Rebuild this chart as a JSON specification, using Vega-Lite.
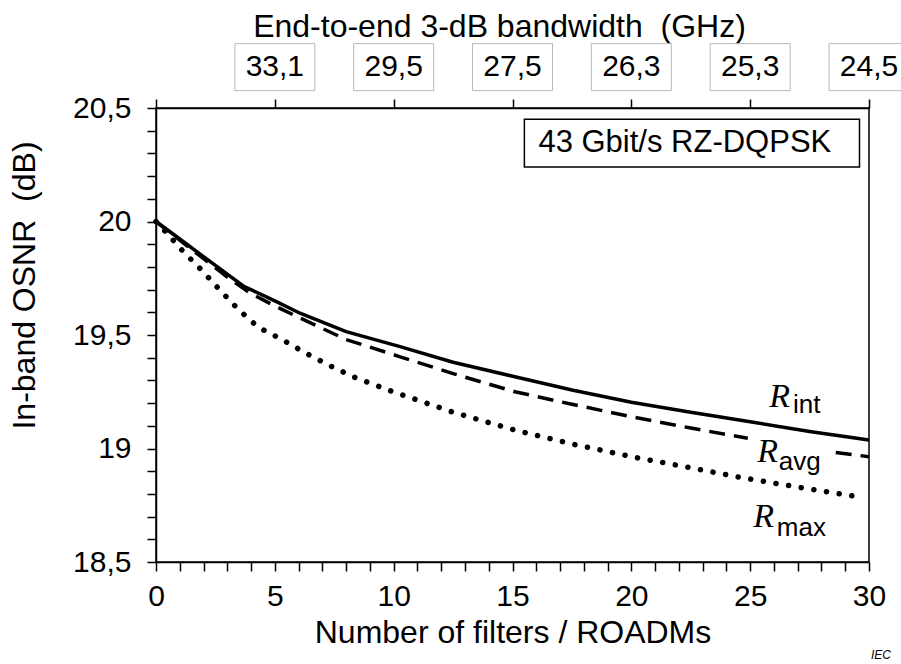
{
  "$schema": "https://vega.github.io/schema/vega-lite/v6.json",
  "width": 713,
  "height": 454,
  "autosize": {"type": "none"},
  "padding": {"left": 156, "top": 108, "right": 32, "bottom": 102},
  "background": "white",
  "config": {
    "view": {"stroke": "black", "strokeWidth": 1.5},
    "font": "Liberation Sans",
    "axis": {
      "domainColor": "black", "domainWidth": 1.5,
      "tickColor": "black", "tickWidth": 1.5,
      "labelColor": "black", "titleColor": "black",
      "labelFont": "Liberation Sans", "titleFont": "Liberation Sans",
      "titleFontWeight": "normal", "labelFontSize": 30, "titleFontSize": 32,
      "grid": false, "labelOverlap": false, "labelBound": false, "labelFlush": false
    }
  },
  "datasets": {
    "curves": [
      {"series": "R_int", "segment": 1, "filters": 0, "osnr": 20.0},
      {"series": "R_int", "segment": 1, "filters": 1, "osnr": 19.923},
      {"series": "R_int", "segment": 1, "filters": 2, "osnr": 19.845},
      {"series": "R_int", "segment": 1, "filters": 3, "osnr": 19.768},
      {"series": "R_int", "segment": 1, "filters": 3.67, "osnr": 19.716},
      {"series": "R_int", "segment": 1, "filters": 5, "osnr": 19.65},
      {"series": "R_int", "segment": 1, "filters": 6.06, "osnr": 19.596},
      {"series": "R_int", "segment": 1, "filters": 8, "osnr": 19.515},
      {"series": "R_int", "segment": 1, "filters": 10.27, "osnr": 19.449},
      {"series": "R_int", "segment": 1, "filters": 12.5, "osnr": 19.38},
      {"series": "R_int", "segment": 1, "filters": 15.1, "osnr": 19.316},
      {"series": "R_int", "segment": 1, "filters": 17.5, "osnr": 19.258},
      {"series": "R_int", "segment": 1, "filters": 20, "osnr": 19.204},
      {"series": "R_int", "segment": 1, "filters": 22.5, "osnr": 19.16},
      {"series": "R_int", "segment": 1, "filters": 25, "osnr": 19.118},
      {"series": "R_int", "segment": 1, "filters": 27.5, "osnr": 19.075},
      {"series": "R_int", "segment": 1, "filters": 30, "osnr": 19.037},
      {"series": "R_avg", "segment": 1, "filters": 0, "osnr": 20.0},
      {"series": "R_avg", "segment": 1, "filters": 1, "osnr": 19.918},
      {"series": "R_avg", "segment": 1, "filters": 2, "osnr": 19.836},
      {"series": "R_avg", "segment": 1, "filters": 3, "osnr": 19.755},
      {"series": "R_avg", "segment": 1, "filters": 3.95, "osnr": 19.685},
      {"series": "R_avg", "segment": 1, "filters": 5, "osnr": 19.628},
      {"series": "R_avg", "segment": 1, "filters": 6.06, "osnr": 19.575},
      {"series": "R_avg", "segment": 1, "filters": 8, "osnr": 19.48},
      {"series": "R_avg", "segment": 1, "filters": 10.27, "osnr": 19.404},
      {"series": "R_avg", "segment": 1, "filters": 12.5, "osnr": 19.33},
      {"series": "R_avg", "segment": 1, "filters": 15.1, "osnr": 19.25},
      {"series": "R_avg", "segment": 1, "filters": 17.5, "osnr": 19.195},
      {"series": "R_avg", "segment": 1, "filters": 20, "osnr": 19.14},
      {"series": "R_avg", "segment": 1, "filters": 22.5, "osnr": 19.09},
      {"series": "R_avg", "segment": 1, "filters": 24.9, "osnr": 19.045},
      {"series": "R_avg", "segment": 2, "filters": 28.6, "osnr": 18.982},
      {"series": "R_avg", "segment": 2, "filters": 30, "osnr": 18.964},
      {"series": "R_max", "segment": 1, "filters": 0, "osnr": 20.0},
      {"series": "R_max", "segment": 1, "filters": 0.4, "osnr": 19.955},
      {"series": "R_max", "segment": 1, "filters": 1.15, "osnr": 19.867},
      {"series": "R_max", "segment": 1, "filters": 1.92, "osnr": 19.786},
      {"series": "R_max", "segment": 1, "filters": 2.69, "osnr": 19.698},
      {"series": "R_max", "segment": 1, "filters": 3.46, "osnr": 19.613},
      {"series": "R_max", "segment": 1, "filters": 4.3, "osnr": 19.534},
      {"series": "R_max", "segment": 1, "filters": 5.29, "osnr": 19.481},
      {"series": "R_max", "segment": 1, "filters": 6.27, "osnr": 19.422},
      {"series": "R_max", "segment": 1, "filters": 7.25, "osnr": 19.368},
      {"series": "R_max", "segment": 1, "filters": 8.3, "osnr": 19.316},
      {"series": "R_max", "segment": 1, "filters": 9.84, "osnr": 19.255},
      {"series": "R_max", "segment": 1, "filters": 12.5, "osnr": 19.16},
      {"series": "R_max", "segment": 1, "filters": 15.1, "osnr": 19.081},
      {"series": "R_max", "segment": 1, "filters": 17.5, "osnr": 19.02},
      {"series": "R_max", "segment": 1, "filters": 20.15, "osnr": 18.961},
      {"series": "R_max", "segment": 1, "filters": 22.5, "osnr": 18.915},
      {"series": "R_max", "segment": 1, "filters": 24.57, "osnr": 18.873},
      {"series": "R_max", "segment": 1, "filters": 27, "osnr": 18.83},
      {"series": "R_max", "segment": 1, "filters": 29.7, "osnr": 18.785}
    ],
    "bandwidth": [
      {"filters": 5, "bw": "33,1"},
      {"filters": 10, "bw": "29,5"},
      {"filters": 15, "bw": "27,5"},
      {"filters": 20, "bw": "26,3"},
      {"filters": 25, "bw": "25,3"},
      {"filters": 30, "bw": "24,5"}
    ],
    "one": [{}]
  },
  "layer": [
    {
      "data": {"name": "curves"},
      "transform": [{"filter": "datum.series === 'R_int'"}],
      "mark": {"type": "line", "color": "black", "strokeWidth": 3.5},
      "encoding": {
        "x": {
          "field": "filters", "type": "quantitative",
          "scale": {"domain": [0, 30], "nice": false, "zero": false},
          "axis": {
            "orient": "bottom",
            "values": [0,1,2,3,4,5,6,7,8,9,10,11,12,13,14,15,16,17,18,19,20,21,22,23,24,25,26,27,28,29,30],
            "labelExpr": "datum.value % 5 === 0 ? datum.label : ''",
            "tickSize": 9, "labelPadding": 10,
            "title": "Number of filters / ROADMs", "titlePadding": 6
          }
        },
        "y": {
          "field": "osnr", "type": "quantitative",
          "scale": {"domain": [18.5, 20.5], "nice": false, "zero": false},
          "axis": {
            "orient": "left",
            "values": [18.5,18.6,18.7,18.8,18.9,19,19.1,19.2,19.3,19.4,19.5,19.6,19.7,19.8,19.9,20,20.1,20.2,20.3,20.4,20.5],
            "labelExpr": "indexof(['18.5','19','19.5','20','20.5'], '' + datum.value) >= 0 ? replace('' + datum.value, '.', ',') : ''",
            "tickSize": 9, "labelPadding": 16,
            "title": "In-band OSNR \u00a0(dB)", "titlePadding": 31, "titleY": 177
          }
        }
      }
    },
    {
      "data": {"name": "curves"},
      "transform": [{"filter": "datum.series === 'R_avg'"}],
      "mark": {"type": "line", "color": "black", "strokeWidth": 3.5, "strokeDash": [16, 9]},
      "encoding": {
        "x": {"field": "filters", "type": "quantitative", "axis": null},
        "y": {"field": "osnr", "type": "quantitative", "axis": null},
        "detail": {"field": "segment", "type": "nominal"}
      }
    },
    {
      "data": {"name": "curves"},
      "transform": [{"filter": "datum.series === 'R_max'"}],
      "mark": {"type": "line", "color": "black", "strokeWidth": 5.5, "strokeDash": [0.1, 12.7], "strokeCap": "round"},
      "encoding": {
        "x": {"field": "filters", "type": "quantitative", "axis": null},
        "y": {"field": "osnr", "type": "quantitative", "axis": null}
      }
    },
    {
      "data": {"name": "bandwidth"},
      "mark": {"type": "point", "shape": "M-1,-0.5875L1,-0.5875L1,0.5875L-1,0.5875Z", "size": 6400, "filled": true, "fill": "white", "fillOpacity": 1, "stroke": "#b8b8b8", "strokeOpacity": 1, "strokeWidth": 1, "opacity": 1},
      "encoding": {
        "x": {"field": "filters", "type": "quantitative", "axis": null},
        "y": {"datum": 20.68, "type": "quantitative", "axis": null}
      }
    },
    {
      "data": {"name": "bandwidth"},
      "mark": {"type": "text", "fontSize": 30, "align": "center", "baseline": "middle", "color": "black"},
      "encoding": {
        "x": {
          "field": "filters", "type": "quantitative",
          "axis": {
            "orient": "top", "values": [0, 5, 10, 15, 20, 25, 30], "labels": false,
            "tickSize": 9, "title": "End-to-end 3-dB bandwidth \u00a0(GHz)", "titlePadding": 55,
            "titleFontSize": 32, "titleX": 343
          }
        },
        "y": {"datum": 20.68, "type": "quantitative", "axis": null},
        "text": {"field": "bw", "type": "nominal"}
      }
    },
    {
      "data": {"name": "one"},
      "mark": {"type": "rect", "fill": "white", "stroke": "black", "strokeWidth": 1.5},
      "encoding": {
        "x": {"datum": 15.5, "type": "quantitative", "axis": null},
        "x2": {"datum": 29.6},
        "y": {"datum": 20.45, "type": "quantitative", "axis": null},
        "y2": {"datum": 20.24}
      }
    },
    {
      "data": {"name": "one"},
      "mark": {"type": "text", "text": "43 Gbit/s RZ-DQPSK", "fontSize": 31, "align": "center", "baseline": "middle", "color": "black"},
      "encoding": {
        "x": {"datum": 22.25, "type": "quantitative", "axis": null},
        "y": {"datum": 20.346, "type": "quantitative", "axis": null}
      }
    },
    {
      "data": {"name": "one"},
      "mark": {"type": "text", "text": "R", "font": "Liberation Serif", "fontStyle": "italic", "fontSize": 34, "align": "left", "baseline": "alphabetic", "color": "black"},
      "encoding": {
        "x": {"datum": 25.8, "type": "quantitative", "axis": null},
        "y": {"datum": 19.183, "type": "quantitative", "axis": null}
      }
    },
    {
      "data": {"name": "one"},
      "mark": {"type": "text", "text": "int", "fontSize": 26, "align": "left", "baseline": "alphabetic", "color": "black"},
      "encoding": {
        "x": {"datum": 26.8, "type": "quantitative", "axis": null},
        "y": {"datum": 19.156, "type": "quantitative", "axis": null}
      }
    },
    {
      "data": {"name": "one"},
      "mark": {"type": "text", "text": "R", "font": "Liberation Serif", "fontStyle": "italic", "fontSize": 34, "align": "left", "baseline": "alphabetic", "color": "black"},
      "encoding": {
        "x": {"datum": 25.3, "type": "quantitative", "axis": null},
        "y": {"datum": 18.94, "type": "quantitative", "axis": null}
      }
    },
    {
      "data": {"name": "one"},
      "mark": {"type": "text", "text": "avg", "fontSize": 26, "align": "left", "baseline": "alphabetic", "color": "black"},
      "encoding": {
        "x": {"datum": 26.2, "type": "quantitative", "axis": null},
        "y": {"datum": 18.905, "type": "quantitative", "axis": null}
      }
    },
    {
      "data": {"name": "one"},
      "mark": {"type": "text", "text": "R", "font": "Liberation Serif", "fontStyle": "italic", "fontSize": 34, "align": "left", "baseline": "alphabetic", "color": "black"},
      "encoding": {
        "x": {"datum": 25.13, "type": "quantitative", "axis": null},
        "y": {"datum": 18.654, "type": "quantitative", "axis": null}
      }
    },
    {
      "data": {"name": "one"},
      "mark": {"type": "text", "text": "max", "fontSize": 26, "align": "left", "baseline": "alphabetic", "color": "black"},
      "encoding": {
        "x": {"datum": 26.12, "type": "quantitative", "axis": null},
        "y": {"datum": 18.615, "type": "quantitative", "axis": null}
      }
    },
    {
      "data": {"name": "one"},
      "mark": {"type": "text", "text": "IEC", "fontSize": 12, "fontStyle": "italic", "align": "center", "baseline": "middle", "color": "black"},
      "encoding": {
        "x": {"datum": 30.5, "type": "quantitative", "axis": null},
        "y": {"datum": 18.09, "type": "quantitative", "axis": null}
      }
    }
  ],
  "resolve": {"axis": {"x": "independent", "y": "independent"}}
}
